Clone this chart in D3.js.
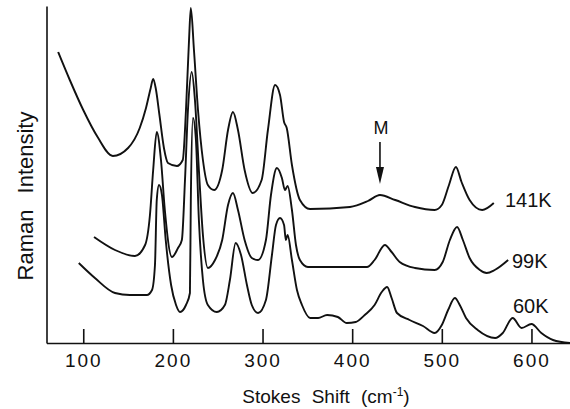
<!DOCTYPE html>
<html>
<head>
<meta charset="utf-8">
<script src="https://cdn.jsdelivr.net/npm/d3@7"></script>
<style>
  body { margin: 0; background: #fff; }
  text { font-family: "Liberation Sans", Arial, sans-serif; fill: #111; }
</style>
</head>
<body>
<script>
// Raman spectra, [Stokes shift (cm-1), intensity (arb. units, offset traces)]
const spectrum141K = [
    [72, 291], [85, 263], [100, 233], [116, 206], [133, 187], [150, 195], [163, 215],
    [170, 235], [175, 254], [178, 264], [181, 254], [185, 228], [190, 195], [194.5, 180],
    [204.5, 177], [211, 183], [214.6, 233], [218, 303], [220, 335], [223.5, 293], [228, 233],
    [233.5, 183], [239, 158], [246, 153], [255, 173], [261.5, 213], [267, 231], [272.6, 213],
    [280, 173], [289, 150], [299, 163], [306, 213], [314, 258], [319.5, 248], [324, 221],
    [327, 215], [332.8, 178], [341.7, 143], [353, 134], [397.5, 136], [417.6, 142], [431, 148],
    [448, 143], [470, 136], [492, 133], [500, 138], [508, 158], [515.7, 176], [522, 161],
    [531, 143], [545, 133], [558, 140]
];
const spectrum99K = [
    [112, 106], [135.4, 93], [157.7, 87], [169, 98], [174.4, 128], [178, 173], [182, 211],
    [186.7, 183], [191, 133], [199, 86], [205.7, 95], [210, 103], [213.5, 163], [216.8, 233],
    [221, 271], [224.6, 243], [229, 173], [233.5, 108], [239, 75], [247, 83], [255, 103],
    [261.5, 138], [267, 150], [272.6, 133], [280, 103], [288, 85], [295, 83], [303.8, 103],
    [309.4, 148], [316, 175], [321.6, 165], [325, 153], [328, 157], [332.8, 133], [337.3, 98],
    [341.7, 83], [350.6, 76], [416.5, 76], [425, 83], [436.5, 98], [444, 91], [453, 81],
    [470, 75], [492, 73], [501, 81], [509, 103], [517, 116], [523.5, 103], [531, 85],
    [542.5, 73], [550, 70], [559, 73], [574, 83]
];
const spectrum60K = [
    [95, 80], [113, 65], [135.4, 50], [152, 48], [171, 48], [176.7, 53], [180, 78], [182, 143],
    [184.5, 158], [187.8, 148], [192, 103], [198, 58], [203.5, 38], [208, 31], [214.6, 38],
    [219, 50], [220, 143], [222.4, 225], [225.7, 203], [229, 123], [233.5, 63], [239, 38],
    [249, 31], [258, 38], [263.6, 63], [270, 100], [276, 88], [282.6, 58], [288, 38], [295, 30],
    [303.8, 43], [310.5, 88], [315, 118], [319.5, 125], [324, 118], [326, 103], [328, 108],
    [332.8, 83], [338.4, 53], [344, 38], [353, 25], [362, 25], [372, 28], [384, 26], [394, 20],
    [404, 21], [414, 28], [425, 38], [433, 51], [439, 56], [444, 45], [450, 30], [464, 23],
    [479, 17], [492, 10], [500, 18], [507, 33], [514.6, 45], [520, 38], [527, 25], [540, 13],
    [559.5, 5], [568, 10], [579, 25], [589, 15], [600, 19], [611, 10], [624, 3], [643, 0]
];

const series = [
    { label: '141K', data: spectrum141K, lx: 505, ly: 207 },
    { label: '99K', data: spectrum99K, lx: 512, ly: 268 },
    { label: '60K', data: spectrum60K, lx: 513, ly: 313 },
];

const xTicks = [100, 200, 300, 400, 500, 600];
const markerShift = 431;   // "M" arrow position

function makeChart(svg) {
    const x = d3.scaleLinear().domain([59, 643]).range([46.5, 570]);
    const y = d3.scaleLinear().domain([0, 337]).range([343, 6]);

    // x axis, ticks pointing inwards
    const gx = svg.append('g')
        .attr('transform', 'translate(0,343)')
        .call(d3.axisBottom(x).tickValues(xTicks).tickSize(-14).tickSizeOuter(0).tickPadding(11));
    gx.select('.domain').attr('stroke', '#111').attr('stroke-width', 1.6);
    gx.selectAll('.tick line').attr('stroke', '#111').attr('stroke-width', 1.6);
    gx.selectAll('.tick text')
        .attr('font-size', 19)
        .attr('letter-spacing', 2)
        .attr('font-family', '"Liberation Sans", Arial, sans-serif')
        .attr('fill', '#111');

    // y axis, no ticks
    const gy = svg.append('g')
        .attr('transform', 'translate(46.5,0)')
        .call(d3.axisLeft(y).tickValues([]).tickSizeOuter(0));
    gy.select('.domain').attr('stroke', '#111').attr('stroke-width', 1.6);

    const line = d3.line()
        .x(d => x(d[0]))
        .y(d => y(d[1]))
        .curve(d3.curveMonotoneX);

    svg.selectAll('path.spec')
        .data(series)
        .enter()
        .append('path')
        .attr('class', 'spec')
        .attr('d', d => line(d.data))
        .attr('fill', 'none')
        .attr('stroke', '#111')
        .attr('stroke-width', 1.9)
        .attr('stroke-linejoin', 'round');

    svg.selectAll('text.lab')
        .data(series)
        .enter()
        .append('text')
        .attr('class', 'lab')
        .attr('x', d => d.lx)
        .attr('y', d => d.ly)
        .attr('font-size', 20)
        .text(d => d.label);

    // "M" marker with arrow
    const mx = x(markerShift);
    svg.append('text')
        .attr('x', mx + 1)
        .attr('y', 134)
        .attr('text-anchor', 'middle')
        .attr('font-size', 18)
        .text('M');
    svg.append('line')
        .attr('x1', mx).attr('x2', mx)
        .attr('y1', 142).attr('y2', 170)
        .attr('stroke', '#111')
        .attr('stroke-width', 1.6);
    svg.append('path')
        .attr('d', `M${mx - 4},167 L${mx + 4},167 L${mx},184 Z`)
        .attr('fill', '#111');

    // axis titles
    const tx = svg.append('text')
        .attr('x', 326)
        .attr('y', 403)
        .attr('text-anchor', 'middle')
        .attr('font-size', 19)
        .attr('word-spacing', 6);
    tx.append('tspan').text('Stokes Shift (cm');
    tx.append('tspan').attr('font-size', 12).attr('dy', -7).text('-1');
    tx.append('tspan').attr('dy', 7).text(')');

    svg.append('text')
        .attr('transform', 'translate(33,196) rotate(-90)')
        .attr('text-anchor', 'middle')
        .attr('font-size', 22)
        .attr('word-spacing', 10)
        .text('Raman Intensity');
}

function main() {
    const svg = d3.select('body')
        .append('svg')
        .attr('width', 570)
        .attr('height', 409);
    makeChart(svg);
}

main();
</script>
</body>
</html>
